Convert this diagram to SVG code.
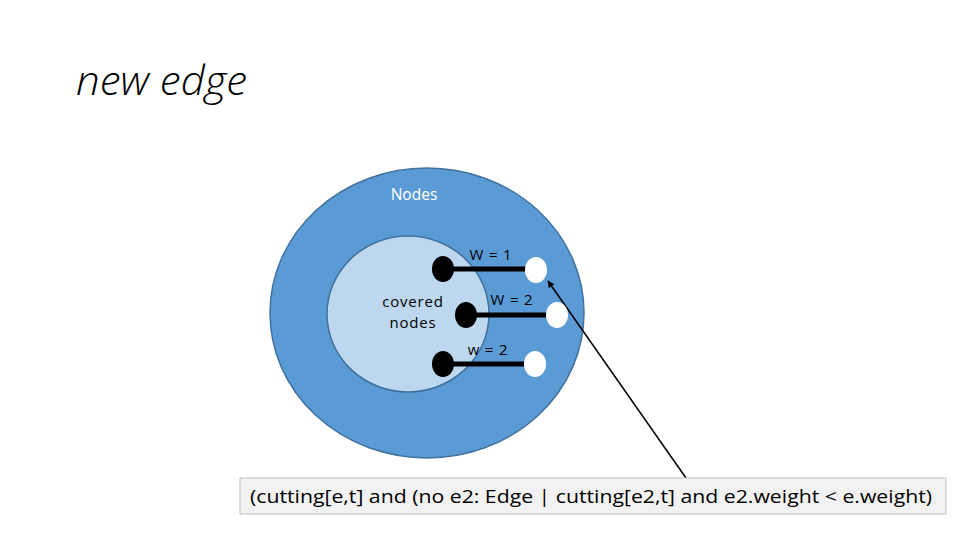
<svg xmlns="http://www.w3.org/2000/svg" width="960" height="540" viewBox="0 0 960 540">
<defs>
<style>
.t{font-family:"Open Sans","Liberation Sans",sans-serif}
.blk{fill:#000}
.wht{fill:#fff}
.edge{stroke:#000;stroke-width:5}
.lbl{font-family:"Open Sans","Liberation Sans",sans-serif;font-size:15px;fill:#000;letter-spacing:0.8px}
</style>
<marker id="ah" viewBox="0 0 10 10" refX="9" refY="5" markerWidth="7" markerHeight="7" orient="auto-start-reverse" markerUnits="userSpaceOnUse">
<path d="M0,0 L10,5 L0,10 z" fill="#000"/>
</marker>
</defs>
<rect width="960" height="540" fill="#fff"/>
<text x="76" y="95" font-family="Open Sans,Liberation Sans,sans-serif" font-style="italic" font-weight="300" font-size="40" fill="#000" textLength="171" lengthAdjust="spacingAndGlyphs">new edge</text>
<g id="outer">
<ellipse cx="427" cy="313" rx="157" ry="145" fill="#5b9bd5" stroke="#41719c" stroke-width="1.5"/>
<text x="414" y="200" class="t" font-size="15.5" fill="#fff" text-anchor="middle">Nodes</text>
</g>
<g id="inner">
<ellipse cx="408" cy="314" rx="81" ry="78" fill="#bdd7ee" stroke="#41719c" stroke-width="1.5"/>
<text class="t" font-size="15" fill="#000" text-anchor="middle" letter-spacing="0.8"><tspan x="413" y="307">covered</tspan><tspan x="413" y="328">nodes</tspan></text>
</g>
<g id="connectors">
<line class="edge" x1="443" y1="269" x2="536" y2="269"/>
<line class="edge" x1="466" y1="315" x2="557" y2="315"/>
<line class="edge" x1="443" y1="364" x2="535" y2="364"/>
<line x1="686" y1="478" x2="548" y2="281" stroke="#000" stroke-width="1.5" marker-end="url(#ah)"/>
</g>
<g id="e1">
<ellipse class="blk" cx="443" cy="269" rx="11" ry="13"/>
<ellipse class="wht" cx="536" cy="270" rx="11" ry="13"/>
<text class="lbl" x="491" y="260" text-anchor="middle">W = 1</text>
</g>
<g id="e2">
<ellipse class="blk" cx="466" cy="315" rx="11" ry="13"/>
<ellipse class="wht" cx="557" cy="315" rx="11" ry="13"/>
<text class="lbl" x="512" y="305" text-anchor="middle">W = 2</text>
</g>
<g id="e3">
<ellipse class="blk" cx="443" cy="364" rx="11" ry="13"/>
<ellipse class="wht" cx="535" cy="364" rx="11" ry="13"/>
<text class="lbl" x="488" y="355" text-anchor="middle">w = 2</text>
</g>
<g id="formula">
<rect x="240" y="478" width="706" height="36" fill="#f2f2f2" stroke="#bfbfbf" stroke-width="1"/>
<text class="t" x="250" y="503" font-size="19" fill="#000" textLength="682" lengthAdjust="spacingAndGlyphs">(cutting[e,t] and (no e2: Edge | cutting[e2,t] and e2.weight &lt; e.weight)</text>
</g>
</svg>
